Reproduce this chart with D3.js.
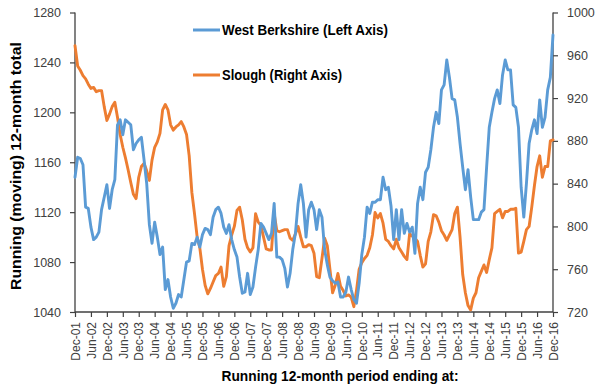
<!DOCTYPE html>
<html>
<head>
<meta charset="utf-8">
<script src="https://cdn.jsdelivr.net/npm/d3@7"></script>
<style>
  html, body { margin: 0; padding: 0; background: #fff; }
  svg { display: block; font-family: "Liberation Sans", Arial, sans-serif; }
</style>
</head>
<body>
<svg id="chart" width="600" height="392"></svg>
<script>
// ---- DATA ----
const startMonth = new Date(2001, 11, 1); // Dec-01
const endMonth = new Date(2016, 11, 1);   // Dec-16
const categories = d3.timeMonth.range(startMonth, d3.timeMonth.offset(endMonth, 1)).map(d3.timeFormat("%b-%y"));

const westBerkshire = [
  1148,1164,1163,1158,1124,1123,1108,1098,1100,1104,1122,1132,1142,1123,1138,1146,1190,1194,1182,1194,
  1192,1190,1170,1175,1178,1180,1162,1143,1110,1095,1112,1100,1086,1092,1058,1066,1052,1043,1047,1054,
  1052,1066,1080,1081,1095,1094,1100,1092,1102,1107,1106,1102,1116,1122,1124,1119,1108,1103,1110,1098,
  1090,1084,1068,1055,1056,1071,1054,1060,1076,1090,1111,1108,1103,1098,1103,1127,1084,1084,1082,1075,
  1060,1071,1090,1103,1127,1142,1127,1100,1122,1128,1122,1106,1122,1116,1090,1078,1068,1065,1063,1064,
  1052,1052,1056,1068,1058,1050,1047,1063,1086,1100,1124,1119,1128,1128,1130,1130,1148,1138,1140,1125,
  1098,1122,1098,1122,1103,1111,1104,1108,1087,1127,1140,1130,1152,1156,1170,1188,1200,1191,1218,1222,
  1242,1228,1211,1210,1196,1175,1156,1138,1154,1132,1114,1114,1114,1120,1122,1156,1188,1200,1211,1218,
  1207,1230,1242,1234,1234,1206,1204,1188,1140,1116,1143,1175,1186,1194,1183,1210,1188,1196,1218,1228,
  1262
];

const slough = [
  969,950,946,941,938,933,929,930,926,927,927,912,899,905,912,916,902,886,874,864,
  853,841,830,826,846,856,859,852,843,862,874,879,887,909,914,909,895,890,893,895,
  898,893,886,866,832,812,790,780,760,745,737,742,748,754,756,762,744,753,782,792,
  800,815,818,806,788,780,776,780,812,804,801,790,779,778,778,812,796,795,796,797,
  797,789,787,793,800,790,781,781,783,782,775,753,752,770,789,782,760,738,745,756,
  744,740,735,736,734,725,740,760,766,770,773,780,792,813,808,812,803,788,786,782,
  779,788,780,776,772,769,793,791,789,786,773,762,765,786,795,811,810,804,796,792,
  787,792,797,812,818,790,755,738,726,722,733,738,752,758,764,757,769,780,812,814,
  816,808,814,814,816,816,817,775,776,786,797,800,818,838,856,866,846,856,856,880,
  881
];

const leftTicks = [1040, 1080, 1120, 1160, 1200, 1240, 1280];
const rightTicks = [720, 760, 800, 840, 880, 920, 960, 1000];
const xTickLabels = categories.filter((c, i) => i % 6 === 0);

const seriesNames = ["West Berkshire (Left Axis)", "Slough (Right Axis)"];
const seriesColors = ["#5B9BD5", "#ED7D31"];

// ---- LAYOUT ----
const svg = d3.select("#chart");
const plot = { left: 75, right: 553, top: 12.5, bottom: 312 };
const axisColor = "#404040";
const textColor = "#404040";

const x = d3.scalePoint().domain(categories).range([plot.left, plot.right]);
const yL = d3.scaleLinear().domain([1040, 1280]).range([plot.bottom, plot.top]);
const yR = d3.scaleLinear().domain([720, 1000]).range([plot.bottom, plot.top]);

// Axes
const gLeft = svg.append("g").attr("transform", `translate(${plot.left},0)`)
  .call(d3.axisLeft(yL).tickValues(leftTicks).tickSize(5).tickPadding(9).tickFormat(d3.format("d")));
const gRight = svg.append("g").attr("transform", `translate(${plot.right},0)`)
  .call(d3.axisRight(yR).tickValues(rightTicks).tickSize(5).tickPadding(9).tickFormat(d3.format("d")));
const gBottom = svg.append("g").attr("transform", `translate(0,${plot.bottom})`)
  .call(d3.axisBottom(x).tickValues(xTickLabels).tickSize(5));

[gLeft, gRight, gBottom].forEach(g => {
  g.select(".domain").attr("stroke", axisColor).attr("stroke-width", 1.3);
  g.selectAll(".tick line").attr("stroke", axisColor).attr("stroke-width", 1.2);
  g.selectAll(".tick text").attr("fill", textColor).style("font-size", "12.5px")
    .style("font-family", "'Liberation Sans', Arial, sans-serif");
});
gLeft.select(".domain").attr("d", `M0,${plot.top}V${plot.bottom}`);
gRight.select(".domain").attr("d", `M0,${plot.top}V${plot.bottom}`);
gBottom.select(".domain").attr("d", `M${plot.left},0H${plot.right}`);

gBottom.selectAll(".tick text")
  .attr("transform", "rotate(-90)")
  .attr("x", -10)
  .attr("y", 0)
  .attr("dy", "0.35em")
  .style("text-anchor", "end")
  .style("font-size", "12px");

// Lines
const lineL = d3.line().x((d, i) => x(categories[i])).y(d => yL(d));
const lineR = d3.line().x((d, i) => x(categories[i])).y(d => yR(d));

svg.append("path").datum(slough)
  .attr("d", lineR).attr("fill", "none").attr("stroke", seriesColors[1])
  .attr("stroke-width", 2.9).attr("stroke-linejoin", "round").attr("stroke-linecap", "round");
svg.append("path").datum(westBerkshire)
  .attr("d", lineL).attr("fill", "none").attr("stroke", seriesColors[0])
  .attr("stroke-width", 2.9).attr("stroke-linejoin", "round").attr("stroke-linecap", "round");

// Legend
const legendY = [30, 75];
const legendWidths = [166, 120];
seriesNames.forEach((name, i) => {
  svg.append("line").attr("x1", 193).attr("x2", 220).attr("y1", legendY[i]).attr("y2", legendY[i])
    .attr("stroke", seriesColors[i]).attr("stroke-width", 3);
  svg.append("text").attr("x", 222).attr("y", legendY[i]).attr("dy", "0.35em")
    .attr("fill", "#000").style("font-weight", "bold").style("font-size", "14.5px")
    .attr("textLength", legendWidths[i]).attr("lengthAdjust", "spacingAndGlyphs")
    .text(name);
});

// Axis titles
svg.append("text")
  .attr("transform", "translate(21,166) rotate(-90)")
  .attr("text-anchor", "middle")
  .attr("fill", "#000").style("font-weight", "bold").style("font-size", "14.5px")
  .attr("textLength", 248).attr("lengthAdjust", "spacingAndGlyphs")
  .text("Running (moving) 12-month total");

svg.append("text")
  .attr("x", 340).attr("y", 381)
  .attr("text-anchor", "middle")
  .attr("fill", "#000").style("font-weight", "bold").style("font-size", "14.5px")
  .attr("textLength", 237).attr("lengthAdjust", "spacingAndGlyphs")
  .text("Running 12-month period ending at:");
</script>
</body>
</html>
